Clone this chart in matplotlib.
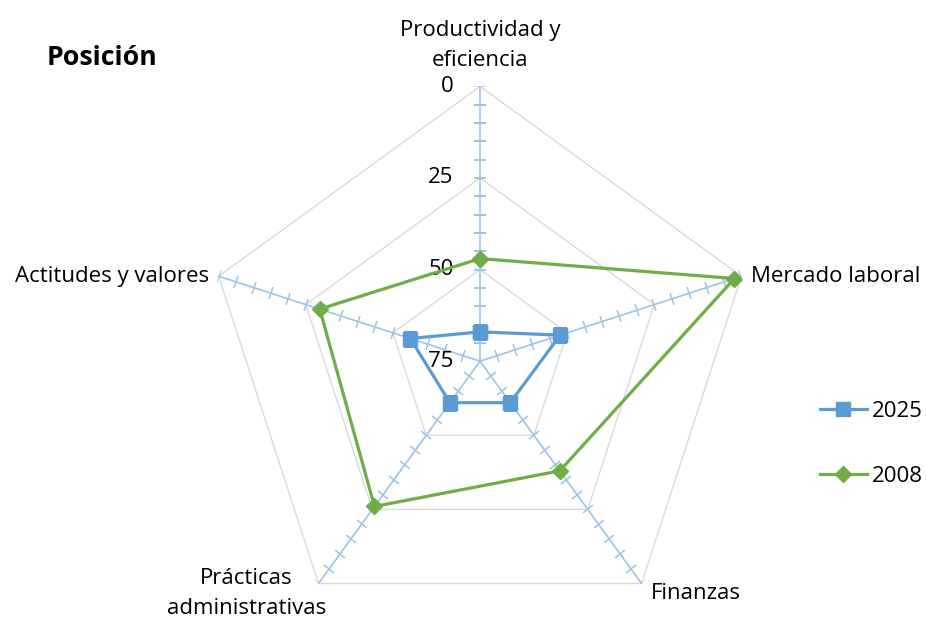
import numpy as np
import matplotlib
matplotlib.use('Agg')
import matplotlib.pyplot as plt
from matplotlib.markers import MarkerStyle
from matplotlib.transforms import Affine2D

plt.rcParams['font.family'] = ['Open Sans', 'DejaVu Sans']

# Data (rank position, 0 = outer edge, 75 = centre)
categories = ['Productividad y\neficiencia', 'Mercado laboral', 'Finanzas',
              'Prácticas\nadministrativas', 'Actitudes y valores']
pos_2025 = [67, 52, 61, 61, 55]
pos_2008 = [47, 2, 38, 26, 29]
r_ticks = [0, 25, 50, 75]
title = 'Posición'

grid_col = '#D9D9D9'
spoke_col = '#9DC3E6'
blue = '#5B9BD5'
green = '#70AD47'

fig = plt.figure(figsize=(9.26, 6.19), dpi=100)
ax = fig.add_axes([0.2214, -0.0275, 0.594, 0.888], projection='polar')
ax.set_theta_zero_location('N')
ax.set_theta_direction(-1)
ax.set_ylim(75, 0)
ax.grid(False)
ax.set_xticks([])
ax.set_yticks([])
ax.spines['polar'].set_visible(False)
ax.patch.set_visible(False)

n = len(categories)
angles = np.arange(n) * 2 * np.pi / n
closed = np.append(angles, angles[0])

# pentagon gridlines
for g in [0, 25, 50]:
    ax.plot(closed, [g] * (n + 1), color=grid_col, lw=1, zorder=1)

# spokes with minor ticks
for a in angles:
    ax.plot([a, a], [75, 0], color=spoke_col, lw=1.2, zorder=2)
    mk = MarkerStyle('_', transform=Affine2D().rotate_deg(-np.degrees(a)))
    ax.plot([a] * 15, np.arange(0, 75, 5), ls='none', marker=mk,
            markersize=9, markeredgecolor=spoke_col, markeredgewidth=1.1, zorder=2)

# series
ax.plot(closed, pos_2025 + pos_2025[:1], color=blue, lw=2.3, marker='s',
        markersize=10.5, label='2025', zorder=3)
ax.plot(closed, pos_2008 + pos_2008[:1], color=green, lw=2.3, marker='D',
        markersize=8.5, label='2008', zorder=4)

# radial labels
for t in r_ticks:
    ax.annotate(str(t), xy=(0, t), xytext=(-19, 0), textcoords='offset points',
                ha='right', va='center', fontsize=16)

# category labels
offsets = [(0, 11), (7, 0), (7, -7), (-52, -7), (-7, 0)]
aligns = [('center', 'bottom'), ('left', 'center'), ('left', 'center'),
          ('center', 'center'), ('right', 'center')]
for a, lab, off, (ha, va) in zip(angles, categories, offsets, aligns):
    ax.annotate(lab, xy=(a, 0), xytext=off, textcoords='offset points',
                ha=ha, va=va, fontsize=16, linespacing=1.55)

fig.text(47 / 926, 1 - 58 / 619, title, fontsize=19.2, fontweight='bold',
         ha='left', va='center')

fig.legend(loc='center left', bbox_to_anchor=(820 / 926, 1 - 444 / 619),
           frameon=False, fontsize=16, labelspacing=2.0, handlelength=2.1,
           handletextpad=0.25, borderpad=0, borderaxespad=0)

fig.savefig('out.png', dpi=100)
